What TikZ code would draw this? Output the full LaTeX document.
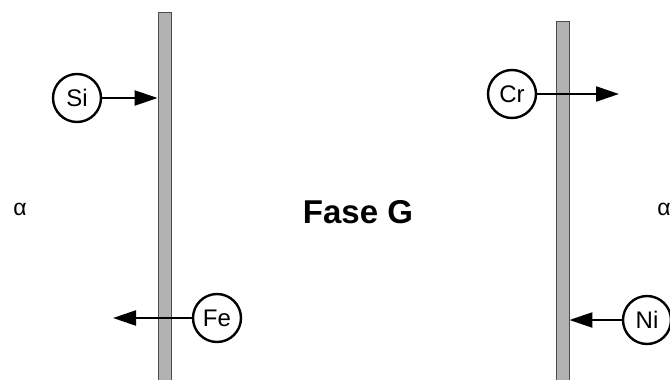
\documentclass[tikz,border=0pt]{standalone}
\usepackage{fontspec}
\setmainfont{Liberation Sans}
\usetikzlibrary{arrows.meta}
\begin{document}
\begin{tikzpicture}[x=1pt,y=-1pt,
  wall/.style={draw=black!70,fill=black!30,line width=0.8pt,inner sep=0pt,minimum width=13pt},
  atom/.style={circle,draw=black,line width=2.4pt,minimum size=48pt,inner sep=0pt,font=\fontsize{24}{24}\selectfont},
  flux/.style={line width=2.2pt,-{Triangle[length=23pt,width=15pt]}},
  phase/.style={font=\fontsize{23}{23}\selectfont}]
  \useasboundingbox (0,0) rectangle (670,380);
  % interfaces
  \node[wall,minimum height=372pt,anchor=north] (wallL) at (164.5,12) {};
  \node[wall,minimum height=362pt,anchor=north] (wallR) at (562.5,21) {};
  % labels
  \node[phase] (alphaL) at (20,209) {α};
  \node[phase] (alphaR) at (664,209) {α};
  \node[font=\bfseries\fontsize{33}{33}\selectfont] (fase) at (358,212) {Fase G};
  % diffusing atoms
  \node[atom] (si) at (77,98) {Si};
  \node[atom] (fe) at (217,318) {Fe};
  \node[atom] (cr) at (512,94) {Cr};
  \node[atom] (ni) at (647,320) {Ni};
  \coordinate (feEnd) at (113,318);
  \coordinate (crEnd) at (619,94);
  % fluxes
  \draw[flux] (si) -- (si -| wallL.west);
  \draw[flux] (fe) -- (feEnd);
  \draw[flux] (cr) -- (crEnd);
  \draw[flux] (ni) -- (ni -| wallR.east);
\end{tikzpicture}
\end{document}
